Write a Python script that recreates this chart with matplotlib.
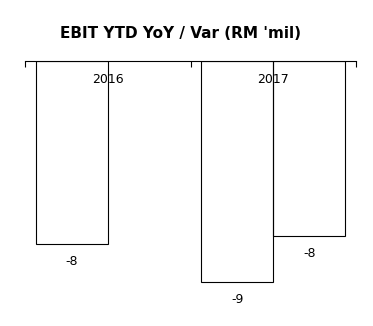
import matplotlib
matplotlib.use("Agg")
import matplotlib.pyplot as plt
import numpy as np

categories = ["2016", "2017"]
series_a = [-7.87, -9.48]
series_b = [np.nan, -7.51]
title = "EBIT YTD YoY / Var (RM 'mil)"

fig = plt.figure(figsize=(3.73, 3.26), dpi=100)
ax = fig.add_axes([25/373, 1-310/326, (356-25)/373, (310-60.5)/326])

x = np.arange(len(categories))
w = 0.435
b1 = ax.bar(x - w/2, series_a, w, color="none", edgecolor="black", linewidth=0.8, zorder=2)
b2 = ax.bar(x + w/2, series_b, w, color="none", edgecolor="black", linewidth=0.8, zorder=2)
for bars in (b1, b2):
    labels = ["" if np.isnan(b.get_height()) else f"{b.get_height():.0f}" for b in bars]
    ax.bar_label(bars, labels=labels, padding=8, fontsize=9)

ax.set_xlim(-0.5, len(categories) - 0.5)
ax.set_ylim(-10.68, 0)
for s in ("left", "right", "bottom"):
    ax.spines[s].set_visible(False)
ax.spines["top"].set_linewidth(0.8)
ax.set_yticks([])
ax.xaxis.tick_top()
ax.set_xticks(np.arange(len(categories) + 1) - 0.5)
ax.set_xticklabels([])
ax.tick_params(axis="x", which="both", top=True, bottom=False, direction="in", length=4, width=0.8)

for i, c in enumerate(categories):
    ax.annotate(c, (i, 0), xytext=(0, -13.7), textcoords="offset points",
                ha="center", va="center", fontsize=9, zorder=1)

fig.text(180/373, 1-33/326, title, ha="center", va="center", fontsize=11, fontweight="bold")
fig.savefig("out.png", dpi=100)
